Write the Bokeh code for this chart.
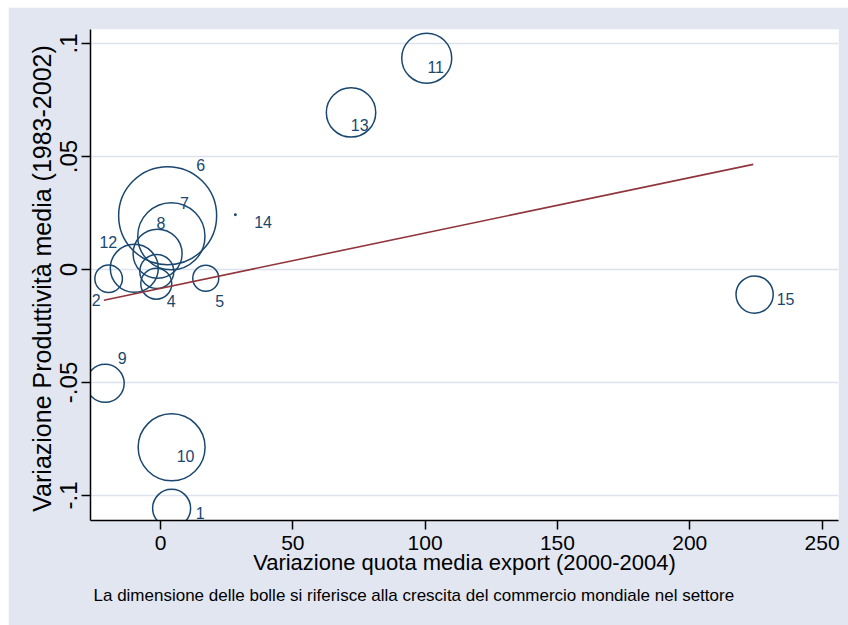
from bokeh.plotting import figure
from bokeh.models import ColumnDataSource, Range1d, FixedTicker, Title, LabelSet
from bokeh.core.properties import value
from bokeh.embed import file_html
from bokeh.resources import INLINE

# Sector number, export-share change (2000-2004), productivity change (1983-2002)
sector = ["1", "2", "3", "4", "5", "6", "7", "8", "9", "10", "11", "12", "13", "14", "15"]
export_change = [4.2, -19.6, -1.4, -1.6, 17.1, 2.7, 4.1, -1.1, -20.9, 4.2, 100.6, -9.9, 72.0, 28.3, 224.5]
productivity_change = [-0.1057, -0.0041, -0.0009, -0.0063, -0.0039, 0.0238, 0.0147, 0.0070,
                       -0.0504, -0.0787, 0.0935, 0.0005, 0.0695, 0.0242, -0.0111]
# growth of world trade in the sector (bubble weight, area-proportional)
world_trade_growth = [3.61, 1.90, 2.89, 2.40, 1.69, 24.0, 11.3, 6.0, 3.61, 11.2, 6.25, 5.76, 6.1, 0.005, 3.46]

# fitted line end points
fit_x = [-21.4, 224.0]
fit_y = [-0.0136, 0.0465]

x_ticks = [0, 50, 100, 150, 200, 250]
y_ticks = [-0.1, -0.05, 0, 0.05, 0.1]
y_tick_labels = ["-.1", "-.05", "0", ".05", ".1"]

# label placement around each bubble (pixels, +right / +up; label 3 is not shown)
label_dx = [28.5, -12.5, 0, 15.0, 14.0, 33.0, 13.0, 3.3, 17.0, 14.0, 9.0, -26.0, 8.7, 27.7, 31.0]
label_dy = [-5.0, -21.5, 0, -17.0, -22.5, 51.0, 33.0, 31.0, 25.0, -9.0, -9.0, 26.0, -12.3, -7.0, -4.7]
label_text = [s if s != "3" else "" for s in sector]

NAVY = "#1a476f"
MAROON = "#90353b"
BG = "#e1e6f0"
GRID = "#dde3ee"
FONT = "Liberation Sans"

diam = [20.0 * w ** 0.5 for w in world_trade_growth]

src = ColumnDataSource(dict(
    x=export_change, y=productivity_change, d=diam, lab=label_text,
    dx=label_dx, dy=label_dy,
))

p = figure(width=840, height=618, output_backend="svg", toolbar_location=None,
           x_range=Range1d(-26.45, 256.2), y_range=Range1d(-0.1111, 0.1062),
           min_border_left=82, min_border_right=10, min_border_top=22, min_border_bottom=105,
           background_fill_color="white", border_fill_color=BG, outline_line_color=None,
           margin=(7, 0, 0, 8))

p.scatter("x", "y", source=src, size="d", marker="circle", fill_color=None,
          line_color=NAVY, line_width=1.5)
p.line(fit_x, fit_y, line_color=MAROON, line_width=1.6)

# sector number next to each bubble
labels = LabelSet(x="x", y="y", text="lab", source=src, x_offset="dx", y_offset="dy",
                  text_align="center", text_baseline="middle", text_color=NAVY,
                  text_font_size="16px", text_font=value(FONT))
p.add_layout(labels)

# axes
p.xaxis.ticker = FixedTicker(ticks=x_ticks)
p.yaxis.ticker = FixedTicker(ticks=y_ticks)
p.yaxis.major_label_overrides = {t: s for t, s in zip(y_ticks, y_tick_labels)}
p.yaxis.major_label_orientation = "vertical"
for ax in (p.xaxis[0], p.yaxis[0]):
    ax.axis_line_color = "black"
    ax.axis_line_width = 1.5
    ax.major_tick_line_color = "black"
    ax.major_tick_line_width = 1.5
    ax.major_tick_out = 9
    ax.major_tick_in = 0
    ax.minor_tick_line_color = None
    ax.major_label_text_font = FONT
    ax.major_label_text_color = "black"
    ax.axis_label_text_font = FONT
    ax.axis_label_text_font_style = "normal"
    ax.axis_label_text_color = "black"

p.xaxis.axis_label = "Variazione quota media export (2000-2004)"
p.yaxis.axis_label = "Variazione  Produttività media (1983-2002)"
p.xaxis.major_label_text_font_size = "21px"
p.xaxis.axis_label_text_font_size = "22px"
p.yaxis.major_label_text_font_size = "24px"
p.yaxis.axis_label_text_font_size = "25px"
p.xaxis.major_label_standoff = 6
p.xaxis.axis_label_standoff = -3
p.yaxis.major_label_standoff = 4
p.yaxis.axis_label_standoff = 2

p.xgrid.grid_line_color = None
p.ygrid.grid_line_color = GRID
p.ygrid.grid_line_width = 1.5

note = Title(text="La dimensione delle bolle si riferisce alla crescita del commercio mondiale nel settore",
             align="left", offset=3, text_font=FONT, text_font_size="17px",
             text_font_style="normal", text_color="black", standoff=12)
p.add_layout(note, "below")

open("out.html", "w").write(file_html(p, INLINE))
